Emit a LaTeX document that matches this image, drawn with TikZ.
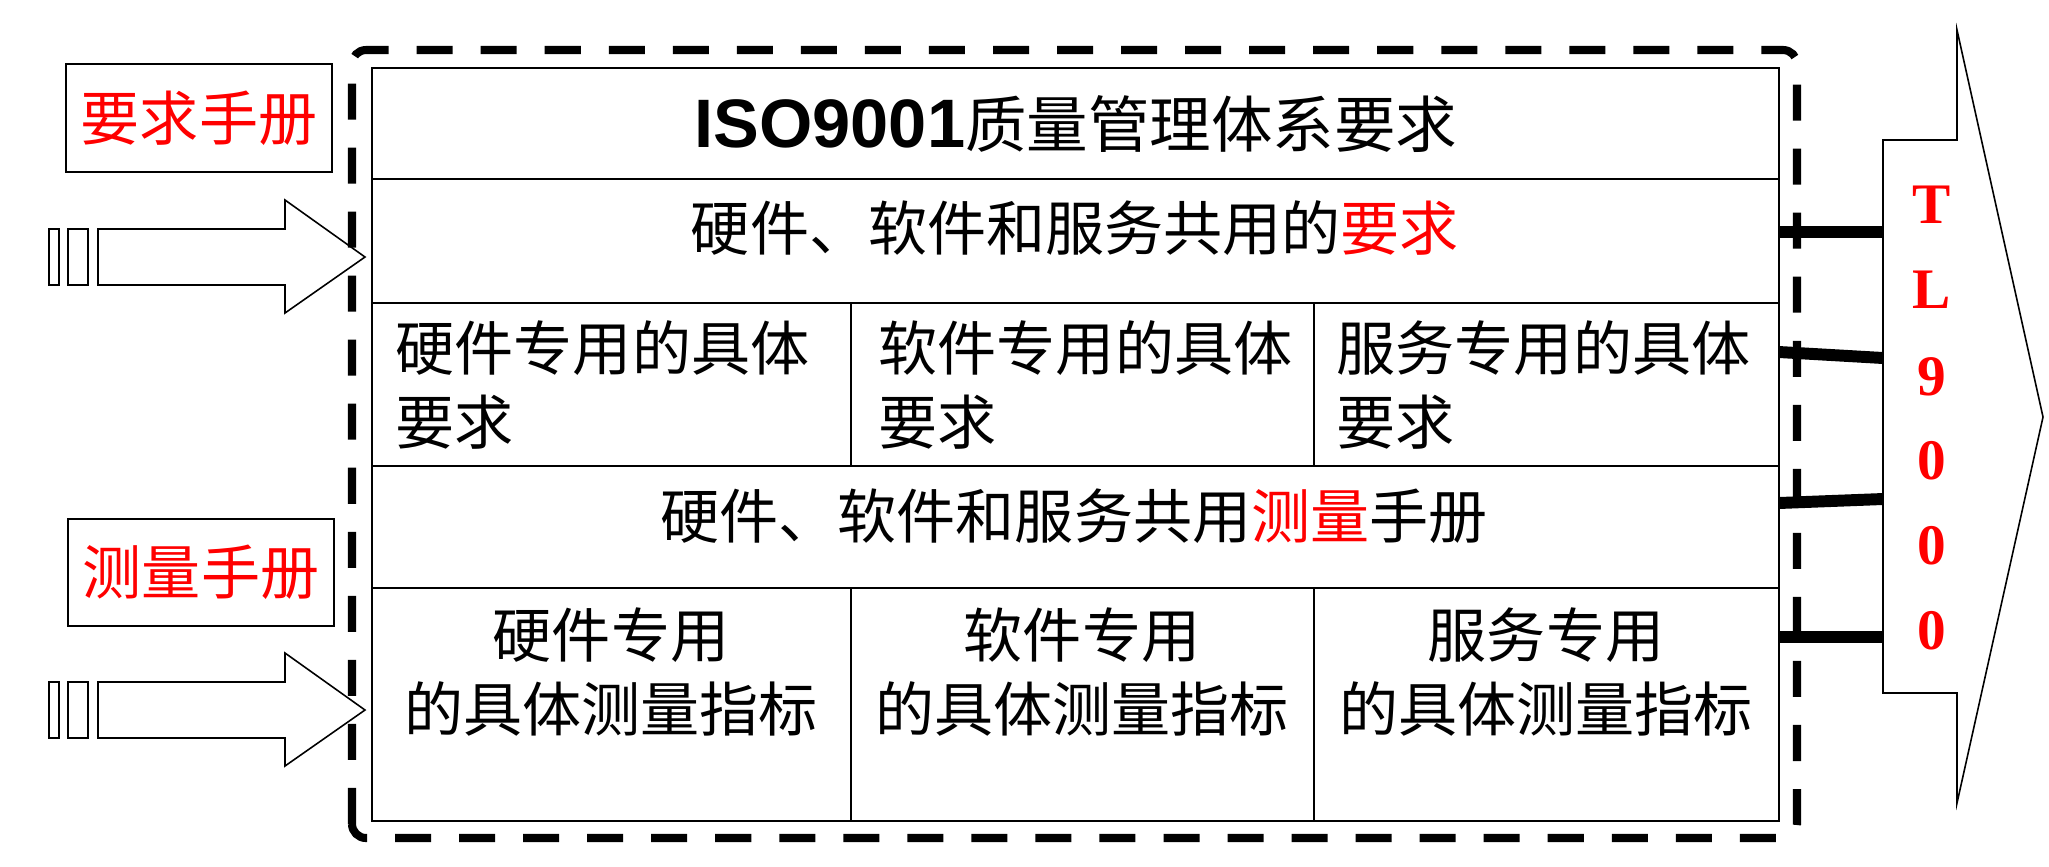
\documentclass[tikz,border=0pt]{standalone}
\usepackage{fontspec}
\setmainfont{Liberation Serif}
\setsansfont{Liberation Sans}
\newfontfamily\cjk{Noto Sans CJK SC}
\usepackage{xcolor}
\usetikzlibrary{shapes,arrows,positioning,calc}

\begin{document}
\begin{tikzpicture}[x=0.01cm,y=-0.01cm,
  zh/.style={font=\cjk\fontsize{16.8}{20.8}\selectfont, inner sep=0pt},
  tl/.style={font=\bfseries\fontsize{16.3}{18}\selectfont, text=red, inner sep=0pt}]
\useasboundingbox (0,0) rectangle (2049,866);

\foreach \y in {257,710} {
  \draw[line width=0.45pt] (49,\y-28) rectangle (59,\y+28);
  \draw[line width=0.45pt] (68,\y-28) rectangle (88,\y+28);
  \draw[line width=0.45pt, fill=white] (98,\y-28) -- (285,\y-28) -- (285,\y-57) -- (365,\y)
    -- (285,\y+56) -- (285,\y+28) -- (98,\y+28) -- cycle;
}

\node[rectangle, draw, line width=0.6pt, minimum width=2.66cm, minimum height=1.08cm, zh, text=red] (reqman) at (199,118) {要求手册};
\node[rectangle, draw, line width=0.6pt, minimum width=2.66cm, minimum height=1.07cm, zh, text=red] (measman) at (201,572.5) {测量手册};

\draw[line width=2.3pt, dash pattern=on 0.36cm off 0.28cm, rounded corners=4] (352,838) -- (352,50) -- (1797,50) -- (1797,838) -- cycle;

\draw[line width=0.6pt, fill=white] (372,68) rectangle (1779,821);
\draw[line width=0.6pt] (372,179) -- (1779,179);
\draw[line width=0.6pt] (372,303) -- (1779,303);
\draw[line width=0.6pt] (372,466) -- (1779,466);
\draw[line width=0.6pt] (372,588) -- (1779,588);
\draw[line width=0.6pt] (851,303) -- (851,466);
\draw[line width=0.6pt] (1314,303) -- (1314,466);
\draw[line width=0.6pt] (851,588) -- (851,821);
\draw[line width=0.6pt] (1314,588) -- (1314,821);

\node[inner sep=0pt] (title) at (1076,124) {{\sffamily\bfseries\fontsize{19.5}{22}\selectfont ISO9001}{\cjk\fontsize{17.5}{21}\selectfont 质量管理体系要求}};
\node[zh] (common) at (1075,228) {硬件、软件和服务共用的{\color{red}要求}};
\node[zh, anchor=west, align=left] (hwreq) at (395,385) {硬件专用的具体\\要求};
\node[zh, anchor=west, align=left] (swreq) at (878,385) {软件专用的具体\\要求};
\node[zh, anchor=west, align=left] (svreq) at (1336,385) {服务专用的具体\\要求};
\node[zh] (commeas) at (1074,516) {硬件、软件和服务共用{\color{red}测量}手册};
\node[zh, align=center] (hwmeas) at (611,672) {硬件专用\\的具体测量指标};
\node[zh, align=center] (swmeas) at (1082,672) {软件专用\\的具体测量指标};
\node[zh, align=center] (svmeas) at (1546,672) {服务专用\\的具体测量指标};

\draw[line width=0.45pt, fill=white] (1883,140) -- (1957,140) -- (1957,30) -- (2043,417)
  -- (1957,803) -- (1957,693) -- (1883,693) -- cycle;
\node[tl] (t1) at (1932,205) {T};
\node[tl] (t2) at (1932,290) {L};
\node[tl] (t3) at (1932,377) {9};
\node[tl] (t4) at (1932,461) {0};
\node[tl] (t5) at (1932,546) {0};
\node[tl] (t6) at (1932,631) {0};

\coordinate (a1) at (1779,232);
\coordinate (b1) at (1883,232);
\coordinate (a2) at (1779,352);
\coordinate (b2) at (1883,358);
\coordinate (a3) at (1779,503);
\coordinate (b3) at (1883,499);
\coordinate (a4) at (1779,637);
\coordinate (b4) at (1883,637);
\draw[line width=3.4pt] (a1) -- (b1);
\draw[line width=3.4pt] (a2) -- (b2);
\draw[line width=3.4pt] (a3) -- (b3);
\draw[line width=3.4pt] (a4) -- (b4);
\end{tikzpicture}
\end{document}
